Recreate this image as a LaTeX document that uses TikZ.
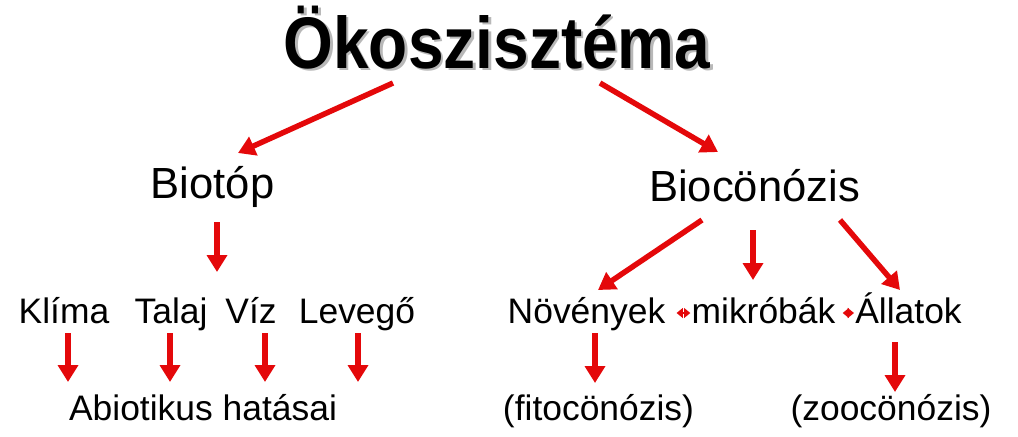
\documentclass[tikz,border=0pt]{standalone}
\usepackage{fontspec}
\setmainfont{Liberation Sans}
\usepackage{tikz}
\usetikzlibrary{arrows.meta,positioning,calc}
\definecolor{arrowred}{RGB}{228,8,10}

\begin{document}
\begin{tikzpicture}[
    x=0.025cm,
    y=-0.025cm,
    >={Triangle[width=14pt,length=12pt]},
    title/.style={
		anchor=base,
		inner sep=0pt,
		xscale=0.875,
		font=\bfseries\fontsize{52}{60}\selectfont
	},
    head/.style={
		anchor=base,
		inner sep=0pt,
		font=\fontsize{31}{37}\selectfont
	},
    word/.style={
		anchor=base,
		inner sep=0pt,
		font=\fontsize{25.2}{30}\selectfont
	},
    link/.style={
		draw=arrowred,
		line width=3.9pt,
		->
	},
    twin/.style={
		draw=arrowred,
		line width=2pt,
		{Triangle[width=7pt,length=4.5pt]}-{Triangle[width=7pt,length=4.5pt]}
	}
  ]
  \useasboundingbox (0,0) rectangle (1018,436);

    % We start by placing the blocks
  \node [title, text=black!28] (okoshadow) at (499.5,70.5) {Ökoszisztéma};
  \node [title] (oko) at (497,68) {Ökoszisztéma};

  \node [head] (biotop) at (212.5,198) {Biotóp};
  \node [head] (biocen) at (754.5,201) {Biocönózis};

  \node [word] (klima) at (64,323) {Klíma};
  \node [word] (talaj) at (171,323) {Talaj};
  \node [word] (viz) at (251,323) {Víz};
  \node [word] (levego) at (357,323) {Levegő};
  \node [word] (abiotikus) at (203,420) {Abiotikus hatásai};

  \node [word] (novenyek) at (586.5,323) {Növények};
  \node [word] (mikrobak) at (763.5,323) {mikróbák};
  \node [word] (allatok) at (908.5,323) {Állatok};
  \node [word] (fito) at (598.5,420) {(fitocönózis)};
  \node [word] (zoo) at (891,420) {(zoocönózis)};

 % arrows
 \draw [link] ($(oko.base)+(-104,15)$) -- ($(biotop.base)+(25.5,-45)$);
 \draw [link] ($(oko.base)+(103,15)$) -- ($(biocen.base)+(-36.5,-49)$);

 \draw [link] ($(biotop.base)+(4.5,24)$) -- ($(biotop.base)+(4.5,74)$);

 \draw [link] ($(biocen.base)+(-52.5,19)$) -- ($(novenyek.base)+(11.5,-33)$);
 \draw [link] ($(biocen.base)+(-1.5,29)$) -- ($(mikrobak.base)+(-10.5,-43)$);
 \draw [link] ($(biocen.base)+(85.5,19)$) -- ($(allatok.base)+(-8.5,-33)$);

 \draw [link] ($(klima.base)+(4,10)$) -- ($(klima.base |- abiotikus.base)+(4,-38)$);
 \draw [link] ($(talaj.base)+(-1,10)$) -- ($(talaj.base |- abiotikus.base)+(-1,-38)$);
 \draw [link] ($(viz.base)+(14,10)$) -- ($(viz.base |- abiotikus.base)+(14,-38)$);
 \draw [link] ($(levego.base)+(1,10)$) -- ($(levego.base |- abiotikus.base)+(1,-38)$);

 \draw [link] ($(novenyek.base)+(8.5,10)$) -- ($(novenyek.base |- fito.base)+(8.5,-37)$);
 \draw [link] ($(allatok.base)+(-13.5,19)$) -- ($(allatok.base |- zoo.base)+(-13.5,-28)$);

 \draw [twin] ($(novenyek.base east)+(11,-10)$) -- ($(mikrobak.base west)+(-1,-10)$);
 \draw [twin] ($(mikrobak.base east)+(7,-10)$) -- ($(allatok.base west)+(-1,-10)$);

\end{tikzpicture}
\end{document}
